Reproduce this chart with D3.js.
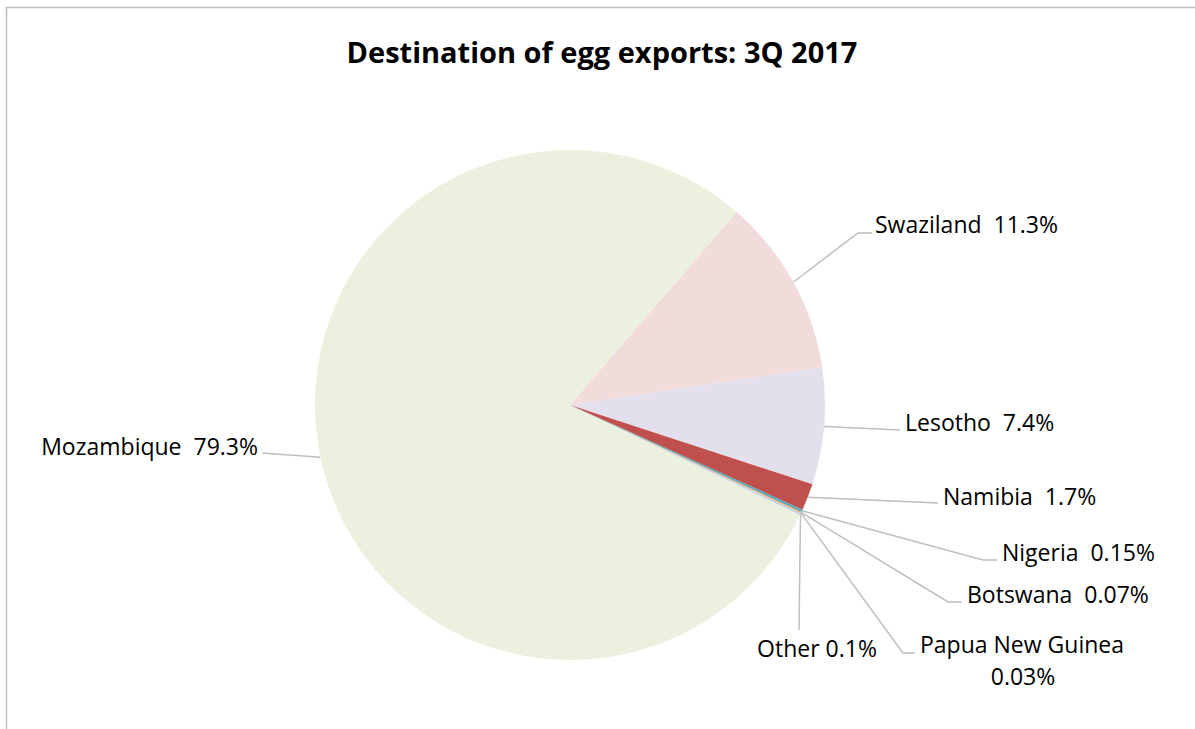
<!DOCTYPE html>
<html lang="en">
<head>
    <meta charset="UTF-8">
    <title>Destination of egg exports: 3Q 2017</title>
    <script src="https://cdn.jsdelivr.net/npm/d3@7"></script>
    <style>
        body { margin: 0; background: #fff; }
        text { font-family: "Open Sans", "Noto Sans", sans-serif; white-space: pre; fill: #000; }
    </style>
</head>
<body>
<div id="chart"></div>
<script>
    // chart data
    const countries = ["Mozambique", "Swaziland", "Lesotho", "Namibia", "Nigeria", "Botswana", "Papua New Guinea", "Other"];
    const shares = [79.3, 11.3, 7.4, 1.7, 0.15, 0.07, 0.03, 0.1];
    const shareLabels = ["79.3%", "11.3%", "7.4%", "1.7%", "0.15%", "0.07%", "0.03%", "0.1%"];
    const sliceColors = ["#ebf1de", "#f2dcdb", "#e4dfec", "#c0504d", "#4bacc6", "#f79646", "#fcd5b5", "#b9cde5"];

    // label placement (page coords): text anchor point, and where the leader line ends
    const labelLayout = [
        {x: 258, y: 455, anchor: "end", line: [[262, 453]], sep: "  "},
        {x: 875, y: 233, anchor: "start", line: [[858, 233], [872, 233]], sep: "  "},
        {x: 905, y: 431, anchor: "start", line: [[900, 430]], sep: "  "},
        {x: 943, y: 505, anchor: "start", line: [[938, 503]], sep: "  "},
        {x: 1002, y: 561, anchor: "start", line: [[983, 560], [997, 560]], sep: "  "},
        {x: 967, y: 603, anchor: "start", line: [[948, 602], [962, 602]], sep: "  "},
        {x: 920, y: 653, anchor: "start", line: [[903, 653], [915, 653]], wrap: true},
        {x: 817, y: 657, anchor: "middle", line: [[799, 630]], sep: " "}
    ];

    const width = 1195, height = 729;
    const cx = 570, cy = 405, radius = 255;

    const svg = d3.select("#chart").append("svg")
        .attr("width", width)
        .attr("height", height);

    // chart frame (runs off the right and bottom edges)
    svg.append("rect")
        .attr("x", 6.5).attr("y", 7.5)
        .attr("width", width).attr("height", height)
        .attr("fill", "none")
        .attr("stroke", "#bfbfbf")
        .attr("stroke-width", 1.5);

    svg.append("text")
        .attr("x", 602).attr("y", 63)
        .attr("text-anchor", "middle")
        .attr("font-size", 29)
        .attr("font-weight", 700)
        .text("Destination of egg exports: 3Q 2017");

    const data = countries.map((c, i) => ({name: c, value: shares[i], label: shareLabels[i], color: sliceColors[i]}));

    const start = 115.5 * Math.PI / 180;
    const pie = d3.pie()
        .sort(null)
        .value(d => d.value)
        .startAngle(start)
        .endAngle(start + 2 * Math.PI);

    const arc = d3.arc().innerRadius(0).outerRadius(radius);
    const edge = d3.arc().innerRadius(radius).outerRadius(radius);

    const arcs = pie(data);
    const g = svg.append("g").attr("transform", `translate(${cx},${cy})`);

    g.selectAll("path.slice")
        .data(arcs)
        .join("path")
        .attr("class", "slice")
        .attr("d", arc)
        .attr("fill", d => d.data.color);

    // leader lines
    const line = d3.line();
    svg.append("g").selectAll("path")
        .data(arcs)
        .join("path")
        .attr("fill", "none")
        .attr("stroke", "#bfbfbf")
        .attr("stroke-width", 1.5)
        .attr("d", (d, i) => {
            const p = edge.centroid(d);
            return line([[p[0] + cx, p[1] + cy], ...labelLayout[i].line]);
        });

    // labels
    const labels = svg.append("g").attr("font-size", 23);
    arcs.forEach((d, i) => {
        const L = labelLayout[i];
        const t = labels.append("text")
            .attr("x", L.x).attr("y", L.y)
            .attr("text-anchor", L.anchor);
        if (L.wrap) {
            t.append("tspan").text(d.data.name);
            t.append("tspan").attr("x", L.x + 103).attr("dy", 32).attr("text-anchor", "middle").text(d.data.label);
        } else {
            t.text(d.data.name + L.sep + d.data.label);
        }
    });
</script>
</body>
</html>
